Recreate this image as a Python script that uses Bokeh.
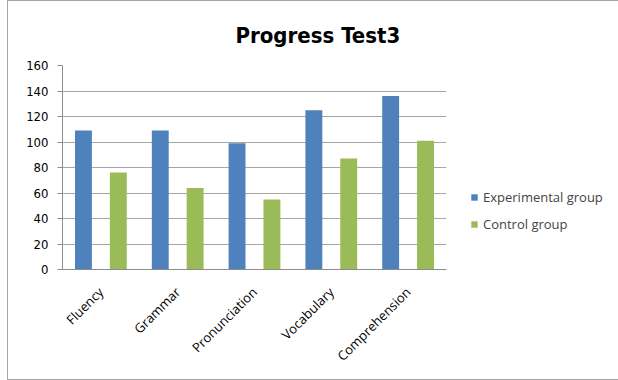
import math
from bokeh.plotting import figure
from bokeh.models import FactorRange, Legend, LegendItem, ColumnDataSource, SingleIntervalTicker
from bokeh.transform import dodge
from bokeh.embed import file_html
from bokeh.resources import INLINE

categories = ["Fluency", "Grammar", "Pronunciation", "Vocabulary", "Comprehension"]
experimental = [109, 109, 99, 125, 136]
control = [76, 64, 55, 87, 101]
series_names = ["Experimental group", "Control group"]
colors = ["#4f81bd", "#9bbb59"]

src = ColumnDataSource(dict(cat=categories, exp=experimental, ctl=control))

p = figure(x_range=FactorRange(*categories), y_range=(0, 160),
           frame_width=384, frame_height=204,
           min_border_left=54, min_border_top=64, min_border_bottom=110, min_border_right=156,
           output_backend="svg", toolbar_location=None)
p.styles = {"margin-left": "7px", "border": "1px solid #a6a6a6"}
p.x_range.range_padding = 0
p.outline_line_color = None

r1 = p.vbar(x=dodge("cat", -0.227, range=p.x_range), top="exp", width=0.22, source=src,
            fill_color=colors[0], line_color=None)
r2 = p.vbar(x=dodge("cat", 0.227, range=p.x_range), top="ctl", width=0.22, source=src,
            fill_color=colors[1], line_color=None)

p.title.text = "Progress Test3"
p.title.align = "left"
p.title.offset = 173
p.title.standoff = 36
p.title.text_line_height = 0.6
p.title.text_font = "DejaVu Sans Condensed"
p.title.text_font_style = "bold"
p.title.text_font_size = "22px"
p.title.text_color = "#000000"

p.yaxis.ticker = SingleIntervalTicker(interval=20)
p.yaxis.minor_tick_line_color = None
p.yaxis.major_tick_in = 0
p.yaxis.major_tick_out = 5
p.yaxis.axis_line_color = "#8c8c8c"
p.yaxis.major_tick_line_color = "#8c8c8c"
p.yaxis.major_label_text_font = "DejaVu Sans Condensed"
p.yaxis.major_label_text_font_size = "13px"
p.yaxis.major_label_text_color = "#000000"
p.yaxis.major_label_standoff = 9

p.xaxis.axis_line_color = "#8c8c8c"
p.xaxis.major_tick_line_color = None
p.xaxis.minor_tick_line_color = None
p.xaxis.major_label_orientation = math.pi / 4
p.xaxis.major_label_text_font = "Open Sans"
p.xaxis.major_label_text_font_size = "13px"
p.xaxis.major_label_text_color = "#000000"
p.xaxis.major_label_standoff = 14

p.xgrid.grid_line_color = None
p.ygrid.grid_line_color = "#a6a6a6"

legend = Legend(items=[LegendItem(label=series_names[0], renderers=[r1]),
                       LegendItem(label=series_names[1], renderers=[r2])],
                location=(24, 36), border_line_color=None, background_fill_alpha=0,
                glyph_width=8, glyph_height=8, label_text_font="Open Sans",
                label_text_font_size="13px", spacing=9, padding=0, margin=0,
                label_standoff=5)
p.add_layout(legend, "right")

open("out.html", "w").write(file_html(p, INLINE))
